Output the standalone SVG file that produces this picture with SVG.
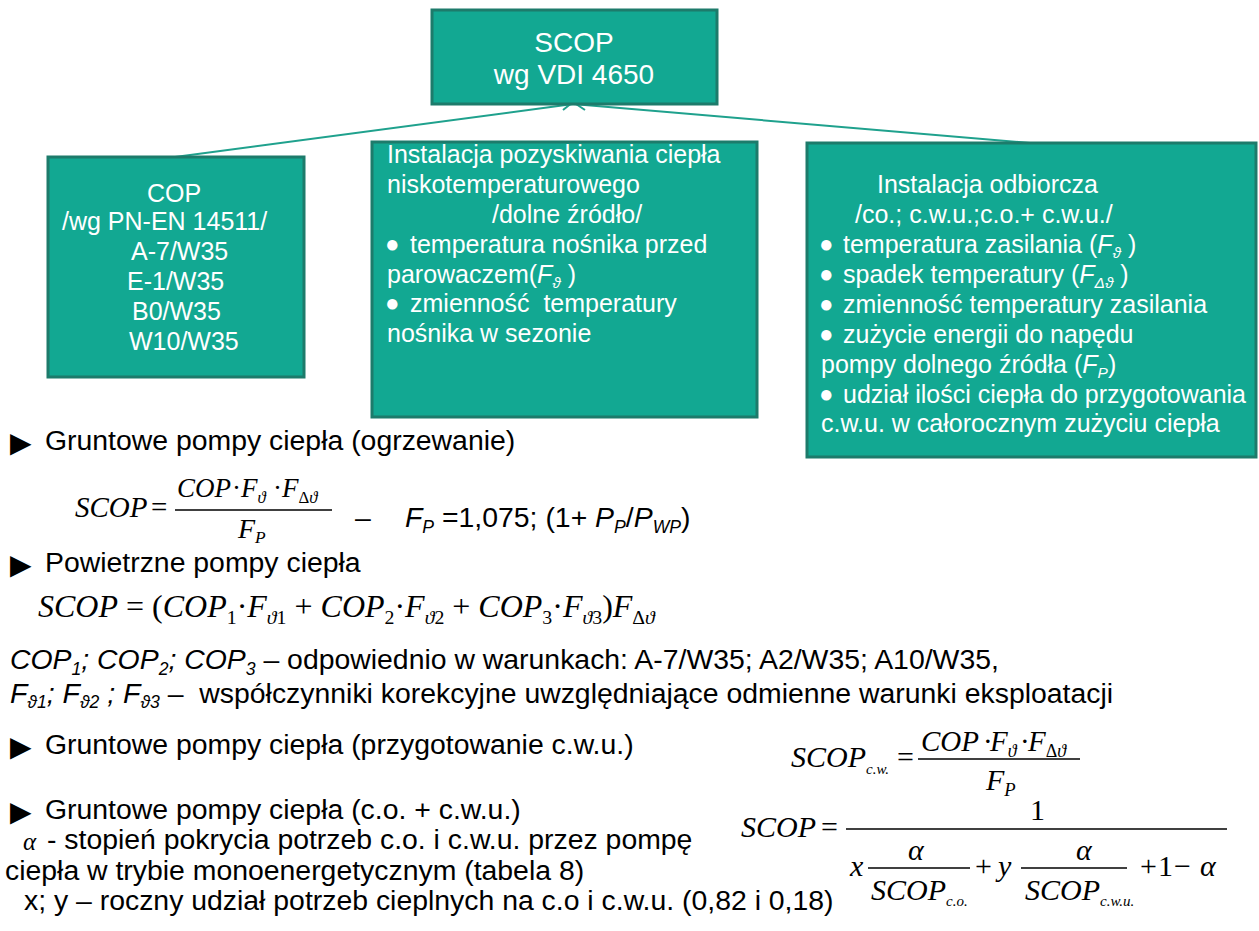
<svg xmlns="http://www.w3.org/2000/svg" width="1259" height="931" viewBox="0 0 1259 931">
<style>
.box{fill:#12A892;stroke:#1D7B6B;stroke-width:3}
.wt{fill:#fff;font-family:"Liberation Sans","DejaVu Sans",sans-serif;font-size:25px}
.tt{fill:#fff;font-family:"Liberation Sans","DejaVu Sans",sans-serif;font-size:28px;text-anchor:middle}
.bt{fill:#000;font-family:"Liberation Sans","DejaVu Sans",sans-serif;font-size:28.4px}
.tri{fill:#000;font-family:"DejaVu Sans",sans-serif;font-size:28px}
.m{fill:#000;font-family:"Liberation Serif","DejaVu Serif",serif;font-style:italic}
.up{font-style:normal}
.i{font-style:italic}
.s{font-size:0.62em}
.s2{font-size:0.5em}
.dot{font-size:24px}
.conn{stroke:#1FA18D;stroke-width:2;fill:none}
.bar{stroke:#000;stroke-width:1.6}
</style>
<rect width="1259" height="931" fill="#fff"/>
<g id="connectors">
<path class="conn" d="M175,157 L573,104"/>
<path class="conn" d="M1030,143 L573,104"/>
<path class="conn" d="M563,110 L573,102 L585,110"/>
</g>
<g id="node-scop">
<rect class="box" x="432" y="10" width="285" height="94"/>
<text class="tt" x="574" y="52">SCOP</text>
<text class="tt" x="574" y="84">wg VDI 4650</text>
</g>
<g id="node-cop">
<rect class="box" x="48" y="157" width="256" height="220"/>
<text class="wt" x="147" y="202">COP</text>
<text class="wt" x="62" y="230">/wg PN-EN 14511/</text>
<text class="wt" x="131" y="260">A-7/W35</text>
<text class="wt" x="127" y="290">E-1/W35</text>
<text class="wt" x="132" y="320">B0/W35</text>
<text class="wt" x="129" y="350">W10/W35</text>
</g>
<g id="node-dolne">
<rect class="box" x="372" y="142" width="385" height="275"/>
<text class="wt" x="387" y="163">Instalacja pozyskiwania ciepła</text>
<text class="wt" x="387" y="193">niskotemperaturowego</text>
<text class="wt" x="492" y="223">/dolne źródło/</text>
<text class="wt" x="385" y="253"><tspan class="dot" dy="-1">●</tspan><tspan x="410" dy="1">temperatura nośnika przed</tspan></text>
<text class="wt" x="387" y="283">parowaczem(<tspan class="i">F</tspan><tspan class="i s" dy="5">ϑ</tspan><tspan dy="-5"> )</tspan></text>
<text class="wt" x="385" y="312" xml:space="preserve"><tspan class="dot" dy="-1">●</tspan><tspan x="410" dy="1">zmienność  temperatury</tspan></text>
<text class="wt" x="387" y="342">nośnika w sezonie</text>
</g>
<g id="node-odbiorcza">
<rect class="box" x="807" y="143" width="449" height="314"/>
<text class="wt" x="877" y="193">Instalacja odbiorcza</text>
<text class="wt" x="855" y="223">/co.; c.w.u.;c.o.+ c.w.u./</text>
<text class="wt" x="819" y="253"><tspan class="dot" dy="-1">●</tspan><tspan x="843" dy="1">temperatura zasilania (</tspan><tspan class="i">F</tspan><tspan class="i s" dy="5">ϑ</tspan><tspan dy="-5"> )</tspan></text>
<text class="wt" x="819" y="283"><tspan class="dot" dy="-1">●</tspan><tspan x="843" dy="1">spadek temperatury (</tspan><tspan class="i">F</tspan><tspan class="i s" dy="5">Δϑ</tspan><tspan dy="-5"> )</tspan></text>
<text class="wt" x="819" y="313"><tspan class="dot" dy="-1">●</tspan><tspan x="843" dy="1">zmienność temperatury zasilania</tspan></text>
<text class="wt" x="819" y="343"><tspan class="dot" dy="-1">●</tspan><tspan x="843" dy="1">zużycie energii do napędu</tspan></text>
<text class="wt" x="821" y="373">pompy dolnego źródła (<tspan class="i">F</tspan><tspan class="i s" dy="5">P</tspan><tspan dy="-5">)</tspan></text>
<text class="wt" x="819" y="403"><tspan class="dot" dy="-1">●</tspan><tspan x="843" dy="1">udział ilości ciepła do przygotowania</tspan></text>
<text class="wt" x="821" y="432">c.w.u. w całorocznym zużyciu ciepła</text>
</g>
<g id="text-gruntowe-ogrz">
<text class="tri" x="10" y="452">▶</text>
<text class="bt" x="45" y="450">Gruntowe pompy ciepła (ogrzewanie)</text>
<text class="m" x="75" y="517" font-size="29">SCOP</text>
<text class="m up" x="151" y="517" font-size="29">=</text>
<line class="bar" x1="175" y1="510" x2="332" y2="510"/>
<text class="m" y="497" font-size="27"><tspan x="177">COP</tspan><tspan class="up" x="232">·</tspan><tspan x="241">F</tspan><tspan class="s" dy="6">ϑ</tspan><tspan class="up" x="273" dy="-6">·</tspan><tspan x="282">F</tspan><tspan class="s up" dy="6">Δ</tspan><tspan class="s">ϑ</tspan></text>
<text class="m" x="238" y="538" font-size="28">F<tspan class="s" dy="5">P</tspan></text>
<text class="bt" x="355" y="527">–</text>
<text class="bt" x="405" y="527"><tspan class="i">F</tspan><tspan class="i s" dy="6">P</tspan><tspan dy="-6"> =1,075; (1+ </tspan><tspan class="i">P</tspan><tspan class="i s" dy="6">P</tspan><tspan dy="-6">/</tspan><tspan class="i">P</tspan><tspan class="i s" dy="6">WP</tspan><tspan dy="-6">)</tspan></text>
</g>
<g id="text-powietrzne">
<text class="tri" x="10" y="574">▶</text>
<text class="bt" x="45" y="572">Powietrzne pompy ciepła</text>
<text class="m" x="38" y="617" font-size="32">SCOP<tspan class="up"> = (</tspan>COP<tspan class="up s" dy="7">1</tspan><tspan class="up" dy="-7">·</tspan>F<tspan class="s" dy="7">ϑ</tspan><tspan class="s up">1</tspan><tspan class="up" dy="-7"> + </tspan>COP<tspan class="up s" dy="7">2</tspan><tspan class="up" dy="-7">·</tspan>F<tspan class="s" dy="7">ϑ</tspan><tspan class="s up">2</tspan><tspan class="up" dy="-7"> + </tspan>COP<tspan class="up s" dy="7">3</tspan><tspan class="up" dy="-7">·</tspan>F<tspan class="s" dy="7">ϑ</tspan><tspan class="s up">3</tspan><tspan class="up" dy="-7">)</tspan>F<tspan class="s up" dy="7">Δ</tspan><tspan class="s">ϑ</tspan></text>
<text class="bt" x="10" y="669"><tspan class="i">COP</tspan><tspan class="i s" dy="6">1</tspan><tspan class="i" dy="-6">; COP</tspan><tspan class="i s" dy="6">2</tspan><tspan class="i" dy="-6">; COP</tspan><tspan class="i s" dy="6">3</tspan><tspan dy="-6"> – odpowiednio w warunkach: A-7/W35; A2/W35; A10/W35,</tspan></text>
<text class="bt" x="10" y="703" xml:space="preserve"><tspan class="i">F</tspan><tspan class="i s" dy="5">ϑ1</tspan><tspan class="i" dy="-5">; F</tspan><tspan class="i s" dy="5">ϑ2</tspan><tspan class="i" dy="-5"> ; F</tspan><tspan class="i s" dy="5">ϑ3</tspan><tspan dy="-5"> –  współczynniki korekcyjne uwzględniające odmienne warunki eksploatacji</tspan></text>
</g>
<g id="text-cwu">
<text class="tri" x="10" y="756">▶</text>
<text class="bt" x="45" y="754">Gruntowe pompy ciepła (przygotowanie c.w.u.)</text>
<text class="m" x="791" y="767" font-size="30">SCOP<tspan class="s2" dy="7">c.w.</tspan></text>
<text class="m up" x="897" y="767" font-size="30">=</text>
<line class="bar" x1="918" y1="759" x2="1080" y2="759"/>
<text class="m" y="751" font-size="29"><tspan x="921">COP</tspan><tspan class="up" x="983">·</tspan><tspan x="990">F</tspan><tspan class="s" dy="6">ϑ</tspan><tspan class="up" x="1020" dy="-6">·</tspan><tspan x="1028">F</tspan><tspan class="s up" dy="6">Δ</tspan><tspan class="s">ϑ</tspan></text>
<text class="m" x="986" y="790" font-size="30">F<tspan class="s" dy="6">P</tspan></text>
</g>
<g id="text-co-cwu">
<text class="tri" x="10" y="821">▶</text>
<text class="bt" x="45" y="819">Gruntowe pompy ciepła (c.o. + c.w.u.)</text>
<text class="m" x="23" y="850" font-size="25">α</text>
<text class="bt" x="47" y="849">- stopień pokrycia potrzeb c.o. i c.w.u. przez pompę</text>
<text class="bt" x="5" y="880">ciepła w trybie monoenergetycznym (tabela 8)</text>
<text class="bt" x="24" y="910">x; y – roczny udział potrzeb cieplnych na c.o i c.w.u. (0,82 i 0,18)</text>
<text class="m" x="741" y="837" font-size="30">SCOP</text>
<text class="m up" x="821" y="837" font-size="30">=</text>
<line class="bar" x1="846" y1="829" x2="1227" y2="829"/>
<text class="m up" x="1030" y="820" font-size="30">1</text>
<text class="m" x="850" y="876" font-size="30">x</text>
<text class="m" x="908" y="860" font-size="30">α</text>
<line class="bar" x1="868" y1="868" x2="970" y2="868"/>
<text class="m" x="871" y="900" font-size="30">SCOP<tspan class="s2" dy="6">c.o.</tspan></text>
<text class="m up" x="975" y="876" font-size="30">+</text>
<text class="m" x="998" y="876" font-size="30">y</text>
<text class="m" x="1076" y="860" font-size="30">α</text>
<line class="bar" x1="1021" y1="868" x2="1127" y2="868"/>
<text class="m" x="1025" y="900" font-size="30">SCOP<tspan class="s2" dy="6">c.w.u.</tspan></text>
<text class="m up" x="1140" y="876" font-size="30">+</text>
<text class="m up" x="1158" y="876" font-size="30">1</text>
<text class="m up" x="1174" y="876" font-size="30">−</text>
<text class="m" x="1200" y="876" font-size="30">α</text>
</g>
</svg>
